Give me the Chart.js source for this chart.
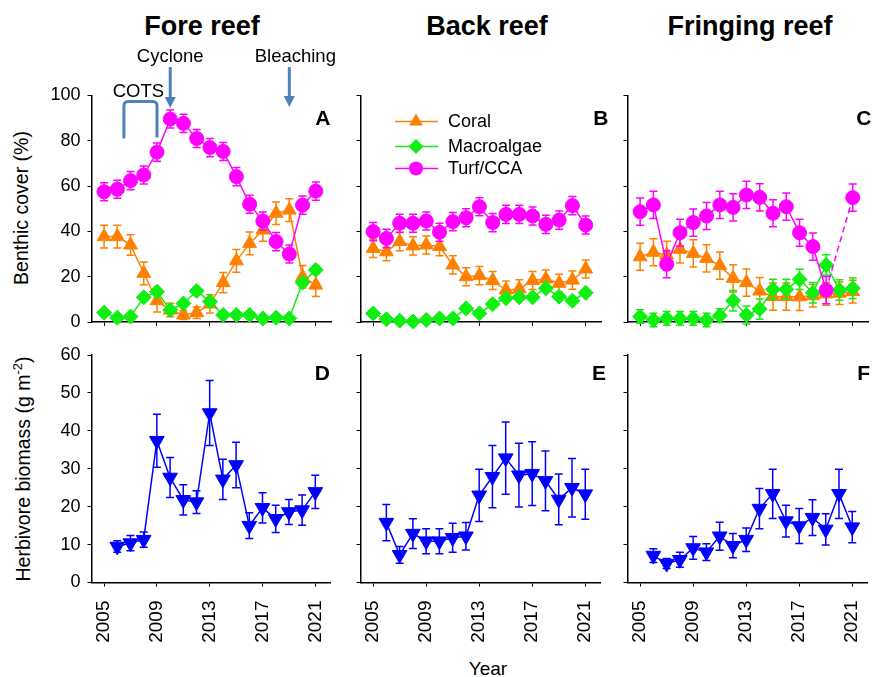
<!DOCTYPE html>
<html>
<head>
<meta charset="utf-8">
<script src="https://cdn.jsdelivr.net/npm/chart.js@4.4.0/dist/chart.umd.min.js"></script>
<style>
  body { margin: 0; background: #fff; width: 878px; height: 677px; position: relative; overflow: hidden;
         font-family: "Liberation Sans", Arial, sans-serif; color: #000; }
  canvas { position: absolute; }
  .title { position: absolute; font-weight: bold; font-size: 27px; line-height: 1; white-space: nowrap; transform: translateX(-50%); }
  .ytitle { position: absolute; font-size: 19.5px; line-height: 1; white-space: nowrap; transform: translate(-50%, -50%) rotate(-90deg); }
  .xtitle { position: absolute; font-size: 19px; line-height: 1; white-space: nowrap; transform: translateX(-50%); }
</style>
</head>
<body>
<div class="title" style="left:202px;top:13px">Fore reef</div>
<div class="title" style="left:487px;top:13px">Back reef</div>
<div class="title" style="left:750px;top:13px">Fringing reef</div>
<div class="ytitle" style="left:22px;top:208px">Benthic cover (%)</div>
<div class="ytitle" style="left:22px;top:469px">Herbivore biomass (g m<sup style="font-size:13px">-2</sup>)</div>
<div class="xtitle" style="left:488px;top:659px">Year</div>

<canvas id="cA" width="320" height="300" style="left:20px;top:40px"></canvas>
<canvas id="cB" width="260" height="300" style="left:350px;top:40px"></canvas>
<canvas id="cC" width="260" height="300" style="left:617px;top:40px"></canvas>
<canvas id="cD" width="320" height="310" style="left:20px;top:340px"></canvas>
<canvas id="cE" width="260" height="310" style="left:350px;top:340px"></canvas>
<canvas id="cF" width="260" height="310" style="left:617px;top:340px"></canvas>

<script>
// survey years and labelled ticks
var years = [2005, 2006, 2007, 2008, 2009, 2010, 2011, 2012, 2013, 2014, 2015, 2016, 2017, 2018, 2019, 2020, 2021];
var yearTicks = [2005, 2009, 2013, 2017, 2021];

// benthic cover (%), fore reef
var foreCoral    = [37.7, 37.7, 34, 21.5, 9.4, 5.3, 3.1, 4.1, 8, 17.4, 27, 34.7, 40.6, 48, 49.4, 20, 16.3];
var foreCoralErr = [5, 5, 4.5, 5, 5, 3, 2, 2.5, 4, 4.5, 5, 5, 5, 5, 5, 5, 5];
var foreMacro    = [4.1, 1.9, 2.4, 10.9, 13.4, 5.3, 8.2, 13.7, 9, 3.1, 3.1, 3.1, 1.6, 1.9, 1.6, 17.4, 23];
var foreMacroErr = [1, 1, 1, 1.5, 1.5, 1, 1, 1.5, 1.5, 1, 1, 1, 1, 1, 1, 1.5, 1.5];
var foreTurf     = [57.5, 58.6, 62.4, 64.9, 75, 89.6, 87.7, 81, 77, 75.3, 64.2, 52, 44.6, 35.5, 30, 51.6, 57.8];
var foreTurfErr  = [4, 4, 4, 4, 4, 4, 4, 4, 4, 4, 4, 4, 4, 4, 4, 4, 4];

// benthic cover (%), back reef
var backCoral    = [32.5, 31, 35.5, 33.6, 34, 33.3, 25.2, 20, 20.5, 18.3, 14.1, 14.6, 18.3, 19, 17.1, 18.5, 23.4];
var backCoralErr = [4, 4, 4, 4, 4, 4, 4, 4, 4, 4, 4, 4, 4, 4, 4, 4, 4];
var backMacro    = [3.8, 1.2, 0.6, 0.2, 0.9, 1.6, 1.6, 6, 3.8, 7.9, 10.5, 10.9, 10.9, 14.9, 11.2, 9.4, 12.9];
var backMacroErr = [1, 1, 1, 1, 1, 1, 1, 1, 1, 1, 1, 1, 1, 1.5, 1, 1, 1];
var backTurf     = [39.9, 36.9, 43.6, 43.6, 44.6, 39.6, 44.3, 46, 50.9, 43.9, 47.5, 47.5, 46.8, 43.1, 45, 51.4, 42.8];
var backTurfErr  = [4, 4, 4, 4, 4, 4, 4, 4, 4, 4, 4, 4, 4, 4, 4, 4, 4];

// benthic cover (%), fringing reef (no turf survey in 2020)
var fringCoral    = [28.8, 30.8, 29.6, 32.1, 30.3, 28.1, 24.9, 19.3, 17.4, 13.7, 11.2, 11.2, 11.1, 11.6, 12.4, 12.7, 13.4];
var fringCoralErr = [6, 6, 6, 6, 6, 6, 6, 6, 6, 6, 6, 6, 6, 5, 5, 5, 5];
var fringMacro    = [2.4, 0.9, 1.6, 1.6, 1.6, 0.9, 2.8, 9.4, 3.1, 5.7, 14.4, 14.4, 18.8, 12.9, 25.2, 14.1, 14.9];
var fringMacroErr = [3, 3, 3, 3, 3, 3, 3, 4.5, 4, 4.5, 4.5, 4.5, 4.5, 4.5, 4.5, 4.5, 4.5];
var fringTurf     = [48.7, 51.7, 25.5, 39.4, 43.9, 46.8, 51.7, 50.6, 56.1, 55, 48, 50.9, 39.4, 33.3, 14.1, null, 54.9];
var fringTurfErr  = [6, 6, 6, 6, 6, 6, 6, 6, 6, 6, 6, 6, 6, 6, 6, null, 6];

// herbivore biomass (g m-2)
var foreHerb     = [null, 9.5, 10.4, 11.3, 37.4, 27.7, 21.8, 21.2, 44.7, 27.2, 31, 15, 19.7, 16.8, 18.6, 19.1, 23.9];
var foreHerbErr  = [null, 1.5, 2, 2, 7, 5.3, 4, 3, 8.6, 5.3, 6, 3.4, 4, 3.6, 3.3, 4, 4.4];
var backHerb     = [null, 15.8, 7.3, 12.9, 10.9, 10.9, 11.8, 12.2, 23, 27.9, 32.8, 28.3, 28.7, 26.8, 21.9, 25, 23.3];
var backHerbErr  = [null, 4.8, 2.2, 3.9, 3.3, 3.3, 3.8, 3.6, 6.9, 8.2, 9.5, 8.4, 8.4, 7.9, 6.7, 7.7, 6.6];
var fringHerb    = [null, 7.1, 5, 6, 9.1, 8, 12.2, 9.7, 11.3, 19.5, 23.4, 16.2, 14.9, 17.1, 14, 23.4, 14.6];
var fringHerbErr = [null, 1.8, 1.3, 2, 3, 2.2, 3.7, 3.2, 3.1, 5.3, 6.5, 4.2, 4.6, 4.7, 4.1, 6.5, 4.1];

// disturbance events marked on the fore reef panel
var cycloneYear = 2010;
var bleachingYear = 2019;
var cotsYears = [2006.5, 2009];

var ORANGE = '#ff8000', GREEN = '#11ee11', PINK = '#ff00ff', BLUE = '#0000ff', NOTE = '#4f81bd';
var FONT = '"Liberation Sans", Arial, sans-serif';

Chart.defaults.font.family = FONT;
Chart.defaults.font.size = 18;
Chart.defaults.color = '#000';

function pts(vals) {
  return years.map((yr, i) => ({ x: yr, y: vals[i] }));
}

function series(label, vals, errs, color, style, radius, order) {
  return {
    label: label, data: pts(vals), errors: errs, order: order,
    borderColor: color, backgroundColor: color, borderWidth: 1.5, tension: 0,
    pointStyle: style, pointRadius: radius, pointBorderWidth: 1,
    clip: false, spanGaps: true,
    // dashed line across a missing survey year
    segment: { borderDash: ctx => (ctx.p0.skip || ctx.p1.skip) ? [6, 4] : undefined }
  };
}

function benthic(coral, coralErr, macro, macroErr, turf, turfErr) {
  return [
    series('Coral', coral, coralErr, ORANGE, 'triangle', 8, 3),
    series('Macroalgae', macro, macroErr, GREEN, 'rectRot', 7.5, 2),
    series('Turf/CCA', turf, turfErr, PINK, 'circle', 7, 1)
  ];
}

function herbivore(vals, errs) {
  var s = series('Herbivores', vals, errs, BLUE, 'triangle', 8.5, 1);
  s.pointRotation = 180;
  return [s];
}

// vertical error bars, drawn just under each dataset's own line and markers
var errorBars = {
  id: 'errorBars',
  beforeDatasetDraw(chart, args) {
    var ds = chart.data.datasets[args.index];
    if (!ds.errors) return;
    var ctx = chart.ctx, ys = chart.scales.y;
    ctx.save();
    ctx.strokeStyle = ds.borderColor;
    ctx.lineWidth = 1.5;
    args.meta.data.forEach((pt, i) => {
      var e = ds.errors[i], v = ds.data[i].y;
      if (e == null || v == null) return;
      var top = ys.getPixelForValue(v + e), bot = ys.getPixelForValue(v - e);
      ctx.beginPath();
      ctx.moveTo(pt.x, top); ctx.lineTo(pt.x, bot);
      ctx.moveTo(pt.x - 4, top); ctx.lineTo(pt.x + 4, top);
      ctx.moveTo(pt.x - 4, bot); ctx.lineTo(pt.x + 4, bot);
      ctx.stroke();
    });
    ctx.restore();
  }
};

function marker(ctx, style, x, y, r) {
  ctx.beginPath();
  if (style === 'circle') {
    ctx.arc(x, y, r, 0, Math.PI * 2);
  } else if (style === 'rectRot') {
    ctx.moveTo(x, y - r); ctx.lineTo(x + r, y); ctx.lineTo(x, y + r); ctx.lineTo(x - r, y);
  } else {
    ctx.moveTo(x, y - r); ctx.lineTo(x + r * 0.866, y + r / 2); ctx.lineTo(x - r * 0.866, y + r / 2);
  }
  ctx.closePath();
  ctx.fill();
}

function arrow(ctx, x, y0, y1) {
  ctx.beginPath(); ctx.moveTo(x, y0); ctx.lineTo(x, y1 - 9); ctx.stroke();
  ctx.beginPath(); ctx.moveTo(x - 5.5, y1 - 11); ctx.lineTo(x + 5.5, y1 - 11); ctx.lineTo(x, y1); ctx.closePath(); ctx.fill();
}

// panel letter, legend and event notes
var deco = {
  id: 'deco',
  afterDraw(chart, args, opts) {
    var ctx = chart.ctx, area = chart.chartArea;
    ctx.save();
    ctx.fillStyle = '#000';
    ctx.font = 'bold 21px ' + FONT;
    ctx.textAlign = 'right';
    ctx.textBaseline = 'alphabetic';
    ctx.fillText(opts.letter, area.right + opts.letterDx, area.top + opts.letterDy);

    if (opts.legend) {
      ctx.font = '18px ' + FONT;
      ctx.textAlign = 'left';
      ctx.textBaseline = 'middle';
      var rows = [26, 51, 73];
      chart.data.datasets.forEach((ds, i) => {
        var y = area.top + rows[i], x0 = area.left + 34.5;
        ctx.strokeStyle = ds.borderColor; ctx.fillStyle = ds.borderColor; ctx.lineWidth = 1.5;
        ctx.beginPath(); ctx.moveTo(x0, y); ctx.lineTo(x0 + 43, y); ctx.stroke();
        marker(ctx, ds.pointStyle, x0 + 21, y, ds.pointRadius);
        ctx.fillStyle = '#000';
        ctx.fillText(ds.label, x0 + 53, y + 1);
      });
    }

    if (opts.notes) {
      var xs = chart.scales.x, t = area.top;
      ctx.strokeStyle = NOTE; ctx.fillStyle = NOTE; ctx.lineWidth = 3;
      var xc = xs.getPixelForValue(cycloneYear), xb = xs.getPixelForValue(bleachingYear);
      arrow(ctx, xc, t - 28.5, t + 12.5);
      arrow(ctx, xb, t - 28.5, t + 11.5);
      var x1 = xs.getPixelForValue(cotsYears[0]), x2 = xs.getPixelForValue(cotsYears[1]);
      ctx.lineJoin = 'round';
      ctx.beginPath();
      ctx.moveTo(x1, t + 43); ctx.lineTo(x1, t + 10);
      ctx.arcTo(x1, t + 6, x1 + 4, t + 6, 4);
      ctx.lineTo(x2 - 4, t + 6);
      ctx.arcTo(x2, t + 6, x2, t + 10, 4);
      ctx.lineTo(x2, t + 42);
      ctx.stroke();
      ctx.fillStyle = '#000';
      ctx.font = '18.5px ' + FONT;
      ctx.textAlign = 'center';
      ctx.textBaseline = 'alphabetic';
      ctx.fillText('Cyclone', xc, t - 33.5);
      ctx.fillText('Bleaching', xb + 6, t - 33.5);
      ctx.fillText('COTS', (x1 + x2) / 2 - 2, t + 1);
    }
    ctx.restore();
  }
};

function xAxis(showLabels) {
  return {
    type: 'linear', min: 2004.05, max: 2022.15,
    afterBuildTicks: s => { s.ticks = yearTicks.map(v => ({ value: v })); },
    afterFit: s => { s.height = showLabels ? 62.5 : 6; s.paddingLeft = 0; s.paddingRight = 0; },
    grid: { drawOnChartArea: false, color: '#000', tickLength: 4, lineWidth: 1 },
    border: { color: '#000', width: 1.5 },
    ticks: { display: showLabels, autoSkip: false, minRotation: 90, maxRotation: 90, padding: 14,
             font: { size: 19 }, callback: v => String(v) }
  };
}

function yAxis(max, step, showLabels, width) {
  return {
    min: 0, max: max,
    afterFit: s => { s.width = width; s.paddingTop = 0; s.paddingBottom = 0; },
    grid: { drawOnChartArea: false, color: '#000', tickLength: 4, lineWidth: 1 },
    border: { color: '#000', width: 1.5 },
    ticks: { stepSize: step, display: showLabels, padding: 7 }
  };
}

function panel(id, datasets, top, first, letter, letterDx, extra) {
  var pad = top ? { top: 55.5, bottom: 12, left: 0, right: 5 } : { top: 15, bottom: 5, left: 0, right: 5 };
  var decoOpts = Object.assign({ letter: letter, letterDx: letterDx, letterDy: top ? 29.5 : 25 }, extra || {});
  new Chart(document.getElementById(id), {
    type: 'line',
    data: { datasets: datasets },
    options: {
      responsive: false, animation: false,
      layout: { padding: pad },
      scales: {
        x: xAxis(!top),
        y: top ? yAxis(100, 20, first, first ? 71.5 : 10.5) : yAxis(60, 10, first, first ? 71.5 : 10.5)
      },
      plugins: { legend: { display: false }, tooltip: { enabled: false }, deco: decoOpts }
    },
    plugins: [errorBars, deco]
  });
}

panel('cA', benthic(foreCoral, foreCoralErr, foreMacro, foreMacroErr, foreTurf, foreTurfErr), true, true, 'A', -0.5, { notes: true });
panel('cB', benthic(backCoral, backCoralErr, backMacro, backMacroErr, backTurf, backTurfErr), true, false, 'B', 7.5, { legend: true });
panel('cC', benthic(fringCoral, fringCoralErr, fringMacro, fringMacroErr, fringTurf, fringTurfErr), true, false, 'C', 3.5);
panel('cD', herbivore(foreHerb, foreHerbErr), false, true, 'D', -0.5);
panel('cE', herbivore(backHerb, backHerbErr), false, false, 'E', 5.5);
panel('cF', herbivore(fringHerb, fringHerbErr), false, false, 'F', 2.5);
</script>
</body>
</html>
